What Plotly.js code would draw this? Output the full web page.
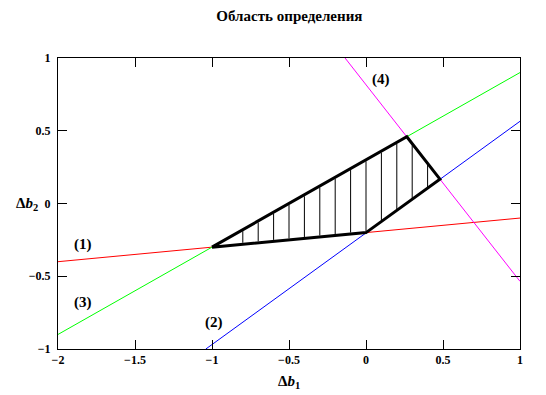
<!DOCTYPE html>
<html><head><meta charset="utf-8">
<script src="https://cdn.plot.ly/plotly-3.0.1.min.js"></script>
<style>body{margin:0;background:#fff}#c{width:546px;height:395px}</style>
</head><body><div id="c"></div>
<script>
// Boundary lines (endpoints)
const line1X = [-2, 1],      line1Y = [-0.4, -0.1];   // (1) red
const line2X = [-1.04, 1],   line2Y = [-1, 0.565];    // (2) blue
const line3X = [-2, 1],      line3Y = [-0.9, 0.9];    // (3) green
const line4X = [-0.136, 1],  line4Y = [1, -0.535];    // (4) magenta
// Feasible region vertices
const regionX = [-1, 0, 0.48, 0.265, -1];
const regionY = [-0.3, -0.2, 0.167, 0.459, -0.3];
// Hatch lines
const hatchX    = [-0.8, -0.7, -0.6, -0.5, -0.4, -0.3, -0.2, -0.1, 0, 0.1, 0.2, 0.3, 0.4];
const hatchLow  = [-0.27, -0.26, -0.25, -0.24, -0.23, -0.22, -0.21, -0.2, -0.19, -0.115, -0.04, 0.035, 0.11];
const hatchHigh = [-0.19, -0.13, -0.07, -0.01, 0.05, 0.11, 0.17, 0.23, 0.29, 0.35, 0.41, 0.4, 0.27];
const labelText = ['(1)', '(2)', '(3)', '(4)'];
const labelX = [-1.84, -0.99, -1.84, 0.1];
const labelY = [-0.28, -0.82, -0.68, 0.85];
const xTicks = [-2, -1.5, -1, -0.5, 0, 0.5, 1];
const yTicks = [-1, -0.5, 0, 0.5, 1];

const serif = '"Liberation Serif", "Times New Roman", Times, serif';
const traces = [];
const hx = [], hy = [];
hatchX.forEach((x, i) => { hx.push(x, x, null); hy.push(hatchLow[i], hatchHigh[i], null); });
traces.push({x: hx, y: hy, mode: 'lines', line: {color: '#000', width: 1}, hoverinfo: 'skip'});
traces.push({x: line1X, y: line1Y, mode: 'lines', line: {color: '#ff0000', width: 1}});
traces.push({x: line2X, y: line2Y, mode: 'lines', line: {color: '#0000ff', width: 1}});
traces.push({x: line3X, y: line3Y, mode: 'lines', line: {color: '#00ff00', width: 1}});
traces.push({x: line4X, y: line4Y, mode: 'lines', line: {color: '#ff00ff', width: 1}});
traces.push({x: regionX, y: regionY, mode: 'lines', line: {color: '#000', width: 3}});

const ann = labelText.map((t, i) => ({x: labelX[i], y: labelY[i], xref: 'x', yref: 'y', text: '<b>' + t + '</b>', showarrow: false, font: {family: serif, size: 15, color: '#000'}}));
ann.push({xref: 'paper', yref: 'paper', x: 0.5, y: -0.075, yanchor: 'top', text: '<b>Δ<i>b</i><sub>1</sub></b>', showarrow: false, font: {family: serif, size: 15, color: '#000'}});
ann.push({xref: 'paper', yref: 'paper', x: -0.04, xanchor: 'right', y: 0.5, yanchor: 'middle', text: '<b>Δ<i>b</i><sub>2</sub></b>', showarrow: false, font: {family: serif, size: 15, color: '#000'}});

const axisCommon = {showgrid: false, zeroline: false, showline: true, linecolor: '#000', linewidth: 1, mirror: 'allticks', ticks: 'inside', ticklen: 9, tickcolor: '#000', tickwidth: 1, tickfont: {family: serif, size: 12, color: '#000'}};
const layout = {
  width: 546, height: 395, showlegend: false,
  font: {family: serif},
  paper_bgcolor: '#fff', plot_bgcolor: '#fff',
  margin: {l: 58, r: 26, t: 58, b: 46},
  title: {text: '<b>Область определения</b>', font: {family: serif, size: 15, color: '#000'}, x: 0.53, xanchor: 'center', y: 0.96, yanchor: 'middle'},
  xaxis: Object.assign({}, axisCommon, {range: [-2, 1], tickvals: xTicks, ticktext: xTicks.map(v => '<b>' + String(v).replace('-', '−') + '</b>')}),
  yaxis: Object.assign({}, axisCommon, {range: [-1, 1], tickvals: yTicks, ticktext: yTicks.map(v => '<b>' + String(v).replace('-', '−') + '</b>'), ticklabelstandoff: 4}),
  annotations: ann
};
Plotly.newPlot('c', traces, layout, {staticPlot: true});
</script></body></html>
